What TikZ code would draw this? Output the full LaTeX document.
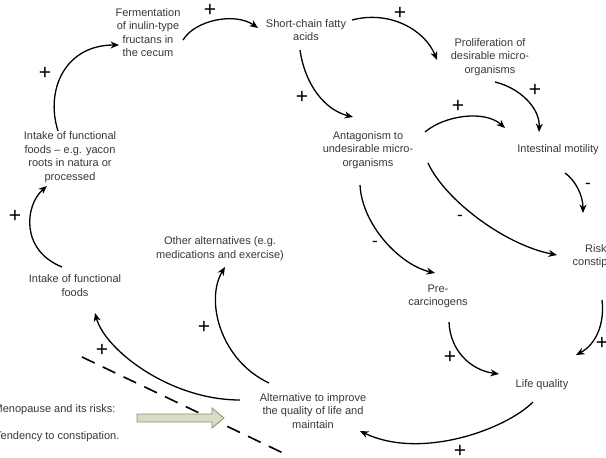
\documentclass[tikz,border=0pt]{standalone}
\usepackage{fontspec}
\setmainfont{Liberation Sans}
\usetikzlibrary{arrows.meta}
\definecolor{txt}{HTML}{383838}
\definecolor{blockfill}{HTML}{D9DCC4}
\definecolor{blockdraw}{HTML}{8C9078}
\tikzset{
  lbl/.style={font=\fontsize{11}{13.5}\selectfont, text=txt, align=center, inner sep=0pt},
  lblleft/.style={font=\fontsize{11}{13.5}\selectfont, text=txt, align=left, inner sep=0pt, anchor=west},
  arr/.style={line width=1.3pt, -{Stealth[length=8.5pt,width=7pt]}},
  sgn/.style={font=\fontsize{21}{21}\selectfont, inner sep=0pt},
  msgn/.style={font=\fontsize{17}{17}\selectfont, inner sep=0pt},
}
\begin{document}
\begin{tikzpicture}[x=1pt,y=-1pt]
\useasboundingbox (0,0) rectangle (606,458);
\clip (0,0) rectangle (606,458);
\fill[white] (0,0) rectangle (606,458);

% text nodes
\node[lbl] (ferm) at (148,32.5) {Fermentation\\of inulin-type\\fructans in\\the cecum};
\node[lbl] (scfa) at (306,30) {Short-chain fatty\\acids};
\node[lbl] (prolif) at (490,57) {Proliferation of\\desirable micro-\\organisms};
\node[lbl] (antag) at (368,150) {Antagonism to\\undesirable micro-\\organisms};
\node[lbl] (motil) at (558,150) {Intestinal motility};
\node[lbl] (risk) at (602,256) {Risk of\\constipation};
\node[lbl] (precarc) at (438,296.5) {Pre-\\carcinogens};
\node[lbl] (life) at (542,385) {Life quality};
\node[lbl] (alt) at (313,411) {Alternative to improve\\the quality of life and\\maintain};
\node[lbl] (other) at (220,248.5) {Other alternatives (e.g.\\medications and exercise)};
\node[lbl] (intake2) at (75,285.5) {Intake of functional\\foods};
\node[lbl] (intake1) at (70,157) {Intake of functional\\foods -- e.g. yacon\\roots in natura or\\processed};
\node[lblleft] (meno) at (-6.5,410) {Menopause and its risks:};
\node[lblleft] (tend) at (-5,437) {Tendency to constipation.};

% connector end points
\coordinate (a1s) at (62,267);   \coordinate (a1e) at (47,186);
\coordinate (a2s) at (58,131);   \coordinate (a2e) at (119,45);
\coordinate (a3s) at (183,40);   \coordinate (a3e) at (258,28);
\coordinate (a4s) at (352,20);   \coordinate (a4e) at (437,60);
\coordinate (a5s) at (300,50);   \coordinate (a5e) at (353,117);
\coordinate (a6s) at (425,132);  \coordinate (a6e) at (505,128);
\coordinate (a7s) at (495,82);   \coordinate (a7e) at (539,132);
\coordinate (a8s) at (565,173);  \coordinate (a8e) at (583,213);
\coordinate (a9s) at (428,163);  \coordinate (a9e) at (557,255);
\coordinate (a10s) at (360,185); \coordinate (a10e) at (435,273);
\coordinate (a11s) at (449,322); \coordinate (a11e) at (499,374);
\coordinate (a12s) at (602,300); \coordinate (a12e) at (576,355);
\coordinate (a13s) at (533,402); \coordinate (a13e) at (360,431);
\coordinate (a14s) at (240,400); \coordinate (a14e) at (95,313);
\coordinate (a15s) at (269,383); \coordinate (a15e) at (225,267);

% connectors
\draw[arr] (a1s) .. controls (20,250) and (25,205) .. (a1e);
\draw[arr] (a2s) .. controls (45,90) and (65,45) .. (a2e);
\draw[arr] (a3s) .. controls (195,20) and (235,12) .. (a3e);
\draw[arr] (a4s) .. controls (390,10) and (425,30) .. (a4e);
\draw[arr] (a5s) .. controls (305,85) and (325,110) .. (a5e);
\draw[arr] (a6s) .. controls (445,115) and (485,110) .. (a6e);
\draw[arr] (a7s) .. controls (520,88) and (540,108) .. (a7e);
\draw[arr] (a8s) .. controls (575,180) and (583,195) .. (a8e);
\draw[arr] (a9s) .. controls (445,200) and (505,245) .. (a9e);
\draw[arr] (a10s) .. controls (362,225) and (400,265) .. (a10e);
\draw[arr] (a11s) .. controls (450,350) and (470,370) .. (a11e);
\draw[arr] (a12s) .. controls (605,325) and (595,345) .. (a12e);
\draw[arr] (a13s) .. controls (505,430) and (420,460) .. (a13e);
\draw[arr] (a14s) .. controls (170,400) and (105,350) .. (a14e);
\draw[arr] (a15s) .. controls (220,360) and (205,300) .. (a15e);

% signs
\node[sgn] (p1) at (15,216) {+};
\node[sgn] (p2) at (45,73) {+};
\node[sgn] (p3) at (210,10) {+};
\node[sgn] (p4) at (400,13) {+};
\node[sgn] (p5) at (302,97) {+};
\node[sgn] (p6) at (458,106) {+};
\node[sgn] (p7) at (535,90) {+};
\node[msgn] (m1) at (588,186) {-};
\node[msgn] (m2) at (460,218) {-};
\node[msgn] (m3) at (375,244) {-};
\node[sgn] (p8) at (450,357) {+};
\node[sgn] (p9) at (602,343) {+};
\node[sgn] (p10) at (460,451) {+};
\node[sgn] (p11) at (102,350) {+};
\node[sgn] (p12) at (204,327) {+};

% dashed line
\draw[line width=1.6pt, dash pattern=on 14pt off 9pt] (82,357) -- (283,453);

% block arrow
\draw[fill=blockfill, draw=blockdraw, line width=0.8pt]
  (137,414) -- (212,414) -- (212,408) -- (224,418) -- (212,428) -- (212,422) -- (137,422) -- cycle;
\end{tikzpicture}
\end{document}
